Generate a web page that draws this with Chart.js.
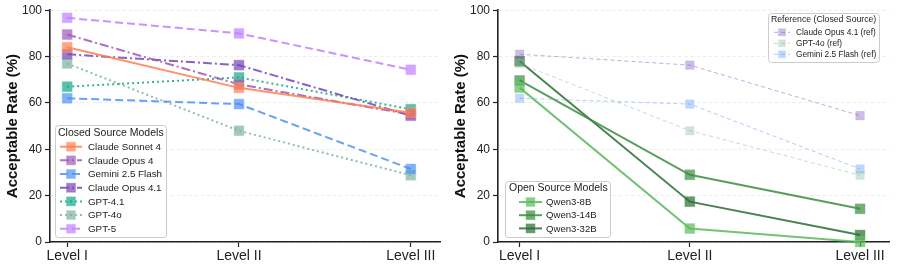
<!DOCTYPE html>
<html><head><meta charset="utf-8">
<script src="https://cdn.jsdelivr.net/npm/chart.js@4/dist/chart.umd.min.js"></script>
<style>
html,body{margin:0;padding:0;background:#fff;}
#wrap{display:flex;width:897px;height:270px;}
canvas{display:block;}
</style></head>
<body>
<div id="wrap">
<canvas id="left" width="448" height="270"></canvas>
<canvas id="right" width="449" height="270"></canvas>
</div>
<script>
const levels = ['Level I', 'Level II', 'Level III'];
const yTicks = [0, 20, 40, 60, 80, 100];

const claudeSonnet4 = [84, 66.5, 55.8];
const claudeOpus4 = [89.5, 68, 55];
const gemini25Flash = [62, 59.5, 31.5];
const claudeOpus41 = [81, 76.3, 54.5];
const gpt41 = [67, 71, 57.3];
const gpt4o = [77, 48, 28.8];
const gpt5 = [96.7, 90, 74.3];

const qwen3_8b = [66.6, 5.8, 0];
const qwen3_14b = [69.7, 29, 14.3];
const qwen3_32b = [78, 17.4, 3];

const FONT = "'Liberation Sans', Arial, Helvetica, sans-serif";

function pts(arr){ return arr.map((v,i)=>({x:i,y:v})); }
function rgba(c,a){ return `rgba(${c[0]},${c[1]},${c[2]},${a})`; }

function ds(label, data, col, dash, opt={}){
  const la = opt.lineAlpha ?? 0.85, fa = opt.fillAlpha ?? 0.7;
  return {
    label, data: pts(data),
    borderColor: rgba(col, la),
    borderWidth: opt.lw ?? 2,
    borderDash: dash,
    pointStyle: 'rect',
    pointRadius: opt.pr ?? 7,
    pointHoverRadius: opt.pr ?? 7,
    pointBackgroundColor: rgba(col, fa),
    pointBorderColor: rgba(col.map(v=>Math.min(255, v+40)), fa*0.6),
    pointBorderWidth: 1,
    tension: 0, fill: false, clip: false
  };
}

const boxLegend = {
  id: 'boxLegend',
  afterDatasetsDraw(chart, args, o){
    if(!o || !o.items) return;
    const ctx = chart.ctx;
    ctx.save();
    ctx.fillStyle = 'rgba(255,255,255,0.85)';
    ctx.strokeStyle = '#cccccc';
    ctx.lineWidth = 1;
    ctx.beginPath();
    ctx.roundRect(o.x+0.5, o.y+0.5, o.w, o.h, 3);
    ctx.fill(); ctx.stroke();
    ctx.fillStyle = '#222';
    ctx.textBaseline = 'middle';
    ctx.textAlign = 'left';
    ctx.font = `${o.titleSize}px ${FONT}`;
    ctx.fillText(o.title, o.titleX, o.titleY);
    ctx.font = `${o.fontSize}px ${FONT}`;
    o.items.forEach((di, k) => {
      const d = chart.data.datasets[di];
      const y = o.firstY + k*o.rowH;
      ctx.save();
      ctx.strokeStyle = d.borderColor;
      ctx.lineWidth = d.borderWidth;
      ctx.setLineDash(d.borderDash || []);
      ctx.beginPath();
      ctx.moveTo(o.sx0, y); ctx.lineTo(o.sx1, y); ctx.stroke();
      ctx.setLineDash([]);
      const s = o.ms;
      const cx = (o.sx0+o.sx1)/2;
      ctx.fillStyle = d.pointBackgroundColor;
      ctx.fillRect(cx-s/2, y-s/2, s, s);
      ctx.strokeStyle = d.pointBorderColor;
      ctx.lineWidth = 1;
      ctx.strokeRect(cx-s/2, y-s/2, s, s);
      ctx.restore();
      ctx.fillStyle = '#222';
      ctx.fillText(d.label, o.tx, y+0.5);
    });
    ctx.restore();
  }
};

function makeOptions(xmin, xmax, legend){
  return {
    responsive: false, animation: false, maintainAspectRatio: false, devicePixelRatio: 1,
    layout: { padding: { top: 10, right: 1, bottom: 0, left: 0 } },
    plugins: { legend: { display: false }, tooltip: { enabled: false }, boxLegend: legend },
    scales: {
      x: {
        type: 'linear', min: xmin, max: xmax,
        afterBuildTicks: s => { s.ticks = levels.map((_, i) => ({ value: i })); },
        afterFit: s => { s.height = 28; },
        ticks: { callback: v => levels[v] ?? '', color: '#222', font: { family: FONT, size: 14 }, padding: 1, maxRotation: 0, autoSkip: false },
        grid: { drawOnChartArea: false, tickLength: 5, tickColor: '#222', tickWidth: 1.2 },
        border: { display: true, color: '#222', width: 1.6 }
      },
      y: {
        min: 0, max: 100,
        afterBuildTicks: s => { s.ticks = yTicks.map(v => ({ value: v })); },
        afterFit: s => { s.width = 50; },
        ticks: { color: '#222', font: { family: FONT, size: 12 }, padding: 3 },
        grid: { color: 'rgba(0,0,0,0.1)', lineWidth: 0.8, tickLength: 5, tickColor: '#222', tickWidth: 1.2, tickBorderDash: [] },
        border: { display: true, color: '#222', width: 1.6, dash: [3, 3] },
        title: { display: true, text: 'Acceptable Rate (%)', color: '#111', font: { family: FONT, size: 15, weight: 'bold' }, padding: { top: 4, bottom: 0 } }
      }
    }
  };
}

const C_SONNET = [255,127,80], C_OPUS4 = [155,89,182], C_GEMINI = [77,144,240],
      C_OPUS41 = [115,70,180], C_GPT41 = [22,165,135], C_GPT4O = [125,178,158], C_GPT5 = [190,128,255];
const C_Q8 = [92,184,92], C_Q14 = [60,140,66], C_Q32 = [42,108,48];

new Chart(document.getElementById('left'), {
  type: 'line',
  data: { datasets: [
    ds('Claude Sonnet 4', claudeSonnet4, C_SONNET, []),
    ds('Claude Opus 4', claudeOpus4, C_OPUS4, [9,3,2,3]),
    ds('Gemini 2.5 Flash', gemini25Flash, C_GEMINI, [8,4]),
    ds('Claude Opus 4.1', claudeOpus41, C_OPUS41, [9,3,2,3]),
    ds('GPT-4.1', gpt41, C_GPT41, [2,3]),
    ds('GPT-4o', gpt4o, C_GPT4O, [2,3]),
    ds('GPT-5', gpt5, C_GPT5, [8,4])
  ]},
  options: makeOptions(-0.1, 2.17, {
    title: 'Closed Source Models', x: 55, y: 125, w: 111, h: 112,
    titleSize: 10.5, titleX: 58, titleY: 133,
    fontSize: 9.8, items: [0,1,2,3,4,5,6], firstY: 146.7, rowH: 13.67,
    sx0: 60, sx1: 82, ms: 9, tx: 88
  }),
  plugins: [boxLegend]
});

new Chart(document.getElementById('right'), {
  type: 'line',
  data: { datasets: [
    ds('Claude Opus 4.1 (ref)', claudeOpus41, C_OPUS41, [4,3], { lw: 1, lineAlpha: 0.45, fillAlpha: 0.35, pr: 6 }),
    ds('GPT-4o (ref)', gpt4o, C_GPT4O, [4,3], { lw: 1, lineAlpha: 0.45, fillAlpha: 0.35, pr: 6 }),
    ds('Gemini 2.5 Flash (ref)', gemini25Flash, C_GEMINI, [4,3], { lw: 1, lineAlpha: 0.45, fillAlpha: 0.35, pr: 6 }),
    ds('Qwen3-8B', qwen3_8b, C_Q8, [], { lw: 2 }),
    ds('Qwen3-14B', qwen3_14b, C_Q14, [], { lw: 2 }),
    ds('Qwen3-32B', qwen3_32b, C_Q32, [], { lw: 2 })
  ]},
  options: makeOptions(-0.127, 2.17, {
    title: 'Open Source Models', x: 57, y: 181, w: 105, h: 56,
    titleSize: 10.5, titleX: 61, titleY: 188,
    fontSize: 9.6, items: [3,4,5], firstY: 202, rowH: 13.2,
    sx0: 71, sx1: 94, ms: 9, tx: 98
  }),
  plugins: [boxLegend, {
    id: 'refLegend',
    afterDatasetsDraw(chart){
      boxLegend.afterDatasetsDraw(chart, null, {
        title: 'Reference (Closed Source)', x: 320, y: 13, w: 111, h: 49,
        titleSize: 8.7, titleX: 323, titleY: 20,
        fontSize: 8.3, items: [0,1,2], firstY: 32.3, rowH: 11,
        sx0: 326, sx1: 342, ms: 7, tx: 348
      });
    }
  }]
});
</script>
</body></html>
